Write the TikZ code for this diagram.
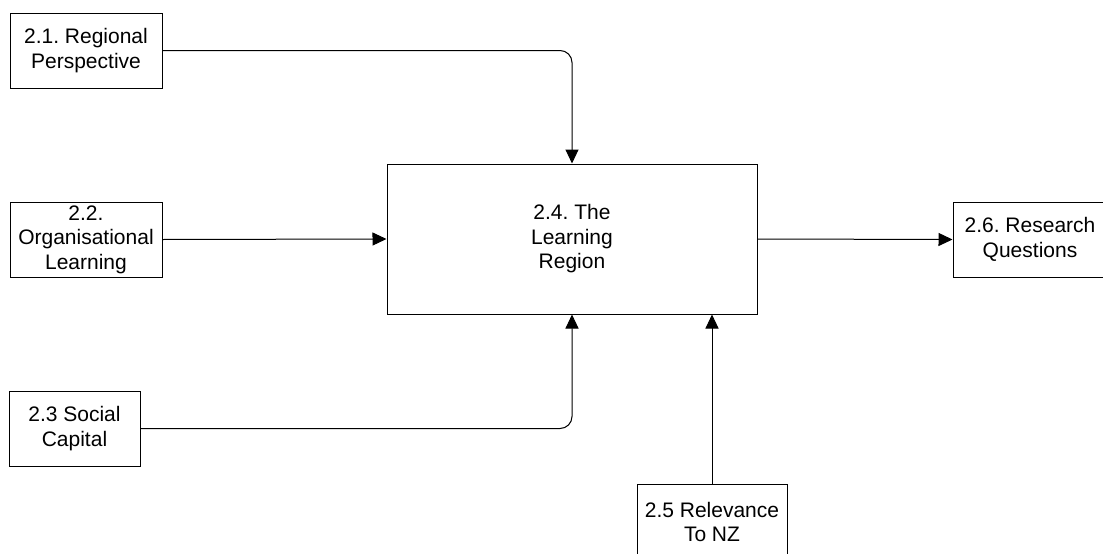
\documentclass[tikz,border=0pt]{standalone}
\usepackage{fontspec}
\setmainfont{Liberation Sans}
\usetikzlibrary{arrows.meta}
\frenchspacing
\begin{document}
\begin{tikzpicture}[x=1pt,y=-1pt,
  box/.style={draw=black, line width=1pt, fill=white, align=center, inner sep=0pt,
    minimum height=75pt, font=\fontsize{21}{24.5}\selectfont},
  flow/.style={draw=black, line width=1pt, rounded corners=12pt,
    -{Triangle[length=14pt,width=13pt]}}]
\useasboundingbox (0,0) rectangle (1103,554);

% chapter section boxes
\node[box, minimum width=152pt] (b1) at (86,50.5) {2.1. Regional\\Perspective};
\node[box, minimum width=152pt] (b2) at (86,239.5) {2.2.\\Organisational\\Learning};
\node[box, minimum width=131pt] (b3) at (74.5,428.5) {2.3 Social\\Capital};
\node[box, minimum width=370pt, minimum height=150pt] (b4) at (572,239) {2.4. The\\Learning\\Region};
\node[box, minimum width=150pt] (b5) at (712,522) {2.5 Relevance\\To NZ};
\node[box, minimum width=154pt] (b6) at (1030,239.5) {2.6. Research\\Questions};

% flows into and out of the central section
\draw[flow] (b1.east) -| (b4.north);
\draw[flow] (b2.east) -- (b4.west);
\draw[flow] (b3.east) -| (b4.south);
\draw[flow] (b5.north) -- (b5.north |- b4.south);
\draw[flow] (b4.east) -- (b6.west);
\end{tikzpicture}
\end{document}
